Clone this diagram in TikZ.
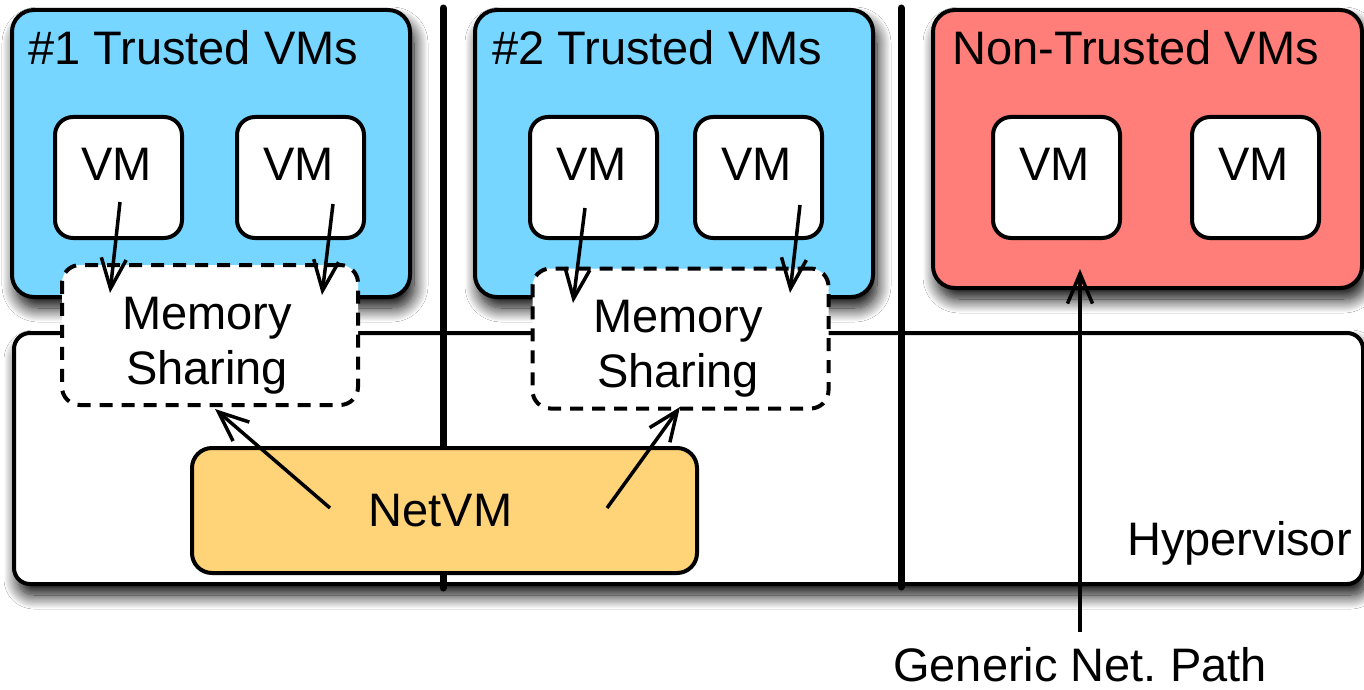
\documentclass[tikz,border=0pt]{standalone}
\usepackage{fontspec}
\setmainfont{Liberation Sans}
\usetikzlibrary{arrows.meta,shadows.blur}

\definecolor{sky}{RGB}{118,214,255}
\definecolor{salmon}{RGB}{255,126,121}
\definecolor{cantaloupe}{RGB}{255,212,121}

\tikzset{
  boxshadow/.style={blur shadow={shadow xshift=4pt, shadow yshift=-11pt,
      shadow blur radius=14pt, shadow blur steps=18, shadow opacity=100}},
  group/.style={draw=black, line width=4pt, rounded corners=22pt, inner sep=0pt, boxshadow},
  vmbox/.style={draw=black, line width=4pt, fill=white, rounded corners=18pt, inner sep=0pt,
      minimum width=127pt, minimum height=121pt},
  sharebox/.style={draw=black, line width=4pt, fill=white, rounded corners=18pt, inner sep=0pt,
      dash pattern=on 13pt off 9pt, minimum width=296pt, minimum height=140pt},
  lbl/.style={inner sep=0pt, font=\fontsize{47}{55}\selectfont},
  divider/.style={line width=7pt, line cap=round},
  arr/.style={line width=3.5pt, -{Straight Barb[length=30pt, width=25pt, line width=3.5pt]}},
}

\begin{document}
\begin{tikzpicture}[x=1pt, y=-1pt]
  \useasboundingbox (0,0) rectangle (1364,690);
  \fill[white] (0,0) rectangle (1364,690);

  % VM groups
  \node[group, fill=sky, minimum width=398pt, minimum height=287pt] (t1) at (211,153.5) {};
  \node[group, fill=sky, minimum width=398pt, minimum height=287pt] (t2) at (674,153.5) {};
  \node[group, fill=salmon, minimum width=429pt, minimum height=278pt] (nt) at (1147.5,149) {};

  % hypervisor layer
  \node[group, fill=white, rounded corners=16pt, minimum width=1349pt, minimum height=251pt] (hyp) at (688.5,458.5) {};

  % separators between the domains
  \coordinate (d1top) at (443,8);
  \coordinate (d1bot) at (443,588);
  \coordinate (d2top) at (901,8);
  \coordinate (d2bot) at (901,587);
  \draw[divider] (d1top) -- (d1bot);
  \draw[divider] (d2top) -- (d2bot);

  % group titles
  \node[lbl, anchor=base west] (t1title) at (28,65) {\#1 Trusted VMs};
  \node[lbl, anchor=base west] (t2title) at (492,65) {\#2 Trusted VMs};
  \node[lbl, anchor=base west] (nttitle) at (952,65) {Non-Trusted VMs};

  % virtual machines
  \node[vmbox] (vm11) at (118.5,177.5) {};
  \node[vmbox] (vm12) at (300.5,177.5) {};
  \node[vmbox] (vm21) at (593.5,177.5) {};
  \node[vmbox] (vm22) at (758.5,177.5) {};
  \node[vmbox] (vm31) at (1056.5,177.5) {};
  \node[vmbox] (vm32) at (1255.5,177.5) {};
  \foreach \v in {vm11,vm12,vm21,vm22,vm31,vm32}
    \node[lbl, anchor=base] at ([shift={(-2,2.5)}]\v.center) {VM};

  % shared memory regions
  \node[sharebox] (ms1) at (210,335) {};
  \node[sharebox] (ms2) at (680.5,338.5) {};
  \node[lbl, align=center, anchor=base] at (207,384) {Memory\\Sharing};
  \node[lbl, align=center, anchor=base] at (678,387) {Memory\\Sharing};

  % NetVM
  \node[draw=black, line width=4pt, fill=cantaloupe, rounded corners=20pt, inner sep=0pt,
        minimum width=505pt, minimum height=125pt] (netvm) at (444.5,510.5) {};
  \node[lbl, anchor=base] at (440.5,526) {NetVM};

  \node[lbl, anchor=base east] (hyplbl) at (1352,555) {Hypervisor};

  % data paths
  \draw[arr] ([shift={(1.5,24.5)}]vm11.center) -- ([shift={(-100,-42)}]ms1.center);
  \draw[arr] ([shift={(32.5,26.5)}]vm12.center) -- ([shift={(112,-40)}]ms1.center);
  \draw[arr] ([shift={(-8.5,30.5)}]vm21.center) -- ([shift={(-107.5,-35.5)}]ms2.center);
  \draw[arr] ([shift={(41.5,27.5)}]vm22.center) -- ([shift={(109.5,-45.5)}]ms2.center);
  \draw[arr] ([shift={(-114.5,-2.5)}]netvm.center) -- ([shift={(5,74)}]ms1.center);
  \draw[arr] ([shift={(162.5,-2.5)}]netvm.center) -- ([shift={(-0.5,68.5)}]ms2.center);

  \coordinate (gnp) at (1080,632);
  \draw[arr] (gnp) -- ([shift={(-67.5,120)}]nt.center);
  \node[lbl, anchor=base west] (gnplbl) at (893,681) {Generic Net.\ Path};
\end{tikzpicture}
\end{document}
